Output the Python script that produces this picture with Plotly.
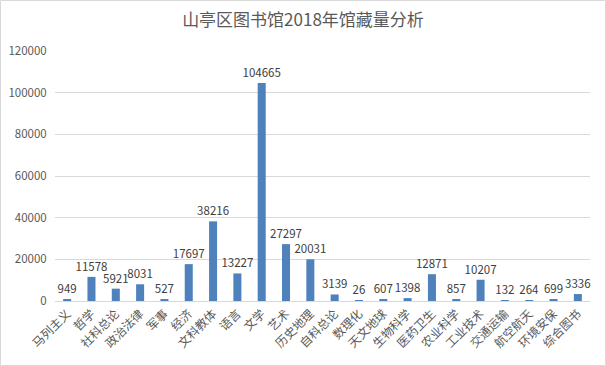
import plotly.graph_objects as go

categories = ["马列主义", "哲学", "社科总论", "政治法律", "军事", "经济", "文科教体", "语言", "文学", "艺术",
              "历史地理", "自科总论", "数理化", "天文地球", "生物科学", "医药卫生", "农业科学", "工业技术",
              "交通运输", "航空航天", "环境安保", "综合图书"]
values = [949, 11578, 5921, 8031, 527, 17697, 38216, 13227, 104665, 27297,
          20031, 3139, 26, 607, 1398, 12871, 857, 10207, 132, 264, 699, 3336]
y_ticks = [0, 20000, 40000, 60000, 80000, 100000, 120000]

W, H = 606, 366
L, R, T, B = 55, 16, 51, 65
pw, ph = W - L - R, H - T - B

font_cjk = "Noto Sans CJK SC, Microsoft YaHei, sans-serif"
txt = "#595959"

fig = go.Figure(go.Bar(
    x=categories, y=values,
    marker=dict(color="#4F81BD", line=dict(width=0)),
    text=[str(v) for v in values], textposition="outside",
    textfont=dict(family=font_cjk, size=11.5, color="#404040"),
    constraintext="none",
    cliponaxis=False,
))

fig.update_layout(
    width=W, height=H,
    margin=dict(l=L, r=R, t=T, b=B, autoexpand=False),
    paper_bgcolor="white", plot_bgcolor="white",
    title=dict(text="山亭区图书馆2018年馆藏量分析", x=0.5, xanchor="center", y=0.945, yanchor="middle",
               font=dict(family=font_cjk, size=17, color=txt)),
    bargap=0.67,
    showlegend=False,
    uniformtext=dict(mode=False),
    xaxis=dict(tickangle=-45, tickfont=dict(family=font_cjk, size=12, color=txt), automargin=False,
               showline=True, linecolor="#D9D9D9", linewidth=1, ticks="", showgrid=False),
    yaxis=dict(range=[0, 120000], tickvals=y_ticks, ticktext=[str(v) for v in y_ticks], automargin=False,
               tickfont=dict(family=font_cjk, size=11.5, color=txt),
               showgrid=True, gridcolor="#D9D9D9", gridwidth=1, zeroline=False, showline=False,
               ticks="outside", ticklen=5, tickcolor="white"),
    shapes=[dict(type="rect", xref="paper", yref="paper",
                 x0=(-L + 0.5) / pw, x1=(pw + R - 0.5) / pw,
                 y0=(-B + 0.5) / ph, y1=(ph + T - 0.5) / ph,
                 line=dict(color="#D9D9D9", width=1), fillcolor="rgba(0,0,0,0)", layer="below")],
)

fig.write_html("out.html", config={"displayModeBar": False},
               post_script="document.body.style.margin='0';document.body.style.overflow='hidden';")
